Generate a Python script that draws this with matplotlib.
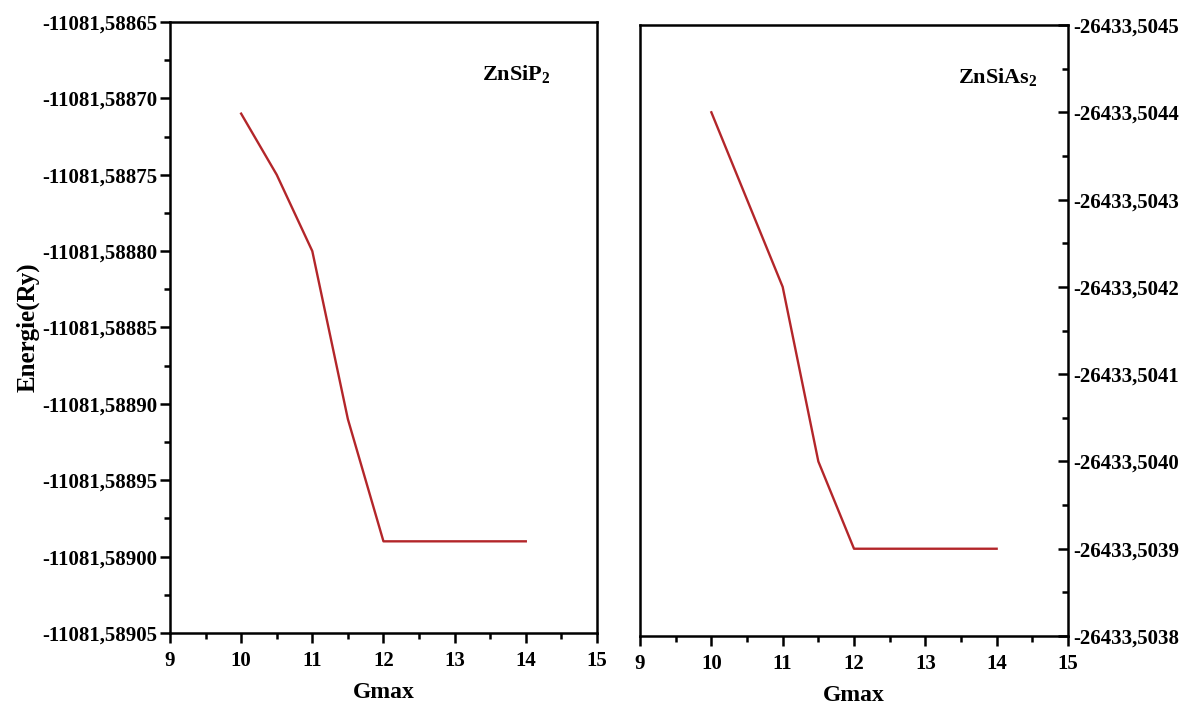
import matplotlib
matplotlib.use("Agg")
import matplotlib.pyplot as plt
from matplotlib.ticker import FuncFormatter, MultipleLocator

plt.rcParams['font.family'] = ['Liberation Serif', 'DejaVu Serif']
plt.rcParams['font.weight'] = 'bold'
plt.rcParams['mathtext.fontset'] = 'custom'
plt.rcParams['mathtext.rm'] = 'Liberation Serif:bold'
plt.rcParams['mathtext.bf'] = 'Liberation Serif:bold'

# Gmax values and total energies (Ry)
gmax = [10, 10.5, 11, 11.5, 12, 12.5, 13, 13.5, 14]
e_znsip2 = [-11081.58871, -11081.58875, -11081.58880, -11081.58891, -11081.58899,
            -11081.58899, -11081.58899, -11081.58899, -11081.58899]
e_znsias2 = [-26433.50440, -26433.50430, -26433.50420, -26433.50400, -26433.50390,
             -26433.50390, -26433.50390, -26433.50390, -26433.50390]

# axis ticks
ticks_p = [-11081.58865, -11081.58870, -11081.58875, -11081.58880, -11081.58885,
           -11081.58890, -11081.58895, -11081.58900, -11081.58905]
ticks_as = [-26433.5045, -26433.5044, -26433.5043, -26433.5042, -26433.5041,
            -26433.5040, -26433.5039, -26433.5038]

red = '#b3262a'
fs = 15

fig = plt.figure(figsize=(11.97, 7.07), dpi=100)
ax1 = fig.add_axes([0.142, 0.1047, 0.3567, 0.8642])
ax2 = fig.add_axes([0.5347, 0.1004, 0.3575, 0.8642])

# left panel
ax1.plot(gmax, e_znsip2, color=red, lw=1.7)
ax1.set_xlim(9, 15)
ax1.set_ylim(ticks_p[-1], ticks_p[0])
ax1.set_yticks(ticks_p)
ax1.yaxis.set_minor_locator(MultipleLocator(0.000025))
ax1.yaxis.set_major_formatter(FuncFormatter(lambda v, p: f"{v:.5f}".replace('.', ',')))
ax1.set_ylabel('Energie(Ry)', fontsize=18, fontweight='bold', labelpad=2)
ax1.set_xlabel('Gmax', fontsize=17, fontweight='bold', labelpad=8)
ax1.text(0.812, 0.913, 'ZnSiP$_2$', transform=ax1.transAxes, ha='center', va='center',
         fontsize=16, fontweight='bold')

# right panel: energy axis runs downward
ax2.plot(gmax, e_znsias2, color=red, lw=1.7)
ax2.set_xlim(9, 15)
ax2.set_ylim(ticks_as[-1], ticks_as[0])
ax2.yaxis.tick_right()
ax2.set_yticks(ticks_as)
ax2.yaxis.set_minor_locator(MultipleLocator(0.00005))
ax2.yaxis.set_major_formatter(FuncFormatter(lambda v, p: f"{v:.4f}".replace('.', ',')))
ax2.set_xlabel('Gmax', fontsize=17, fontweight='bold', labelpad=8)
ax2.text(0.836, 0.913, 'ZnSiAs$_2$', transform=ax2.transAxes, ha='center', va='center',
         fontsize=16, fontweight='bold')

for ax in (ax1, ax2):
    ax.xaxis.set_major_locator(MultipleLocator(1))
    ax.xaxis.set_minor_locator(MultipleLocator(0.5))
    for s in ax.spines.values():
        s.set_linewidth(1.8)
    ax.tick_params(which='major', length=7, width=1.8, labelsize=fs)
    ax.tick_params(which='minor', length=4, width=1.8)
    ax.tick_params(axis='x', direction='out', pad=6)
    for lab in ax.get_xticklabels() + ax.get_yticklabels():
        lab.set_fontweight('bold')

ax1.tick_params(axis='y', direction='out', pad=2)
ax2.tick_params(axis='y', which='both', direction='in', pad=4)

fig.savefig('out.png', dpi=100)
